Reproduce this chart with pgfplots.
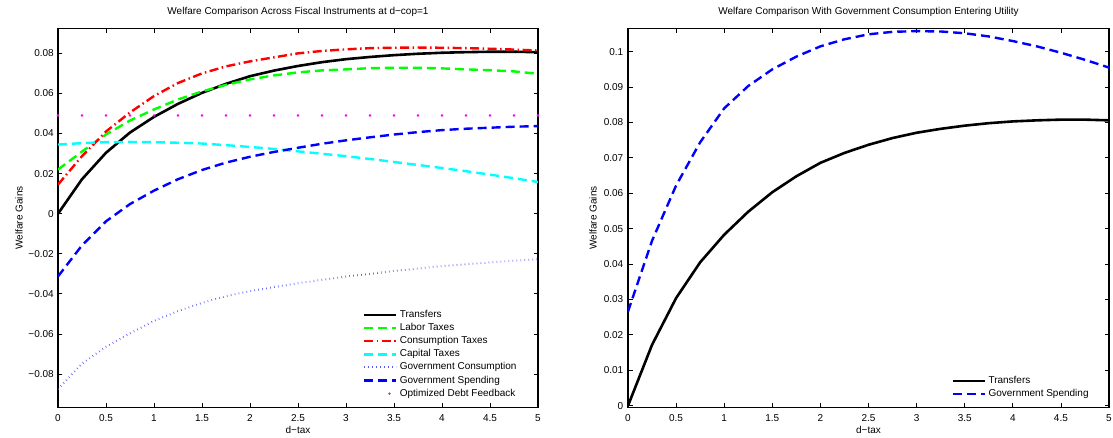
\documentclass[border=0pt]{standalone}
\usepackage{pgfplots}
\pgfplotsset{compat=1.18}
\usepackage{fontspec}
\setmainfont{Liberation Sans}
\definecolor{mgreen}{rgb}{0,1,0}
\definecolor{mcyan}{rgb}{0,1,1}
\definecolor{mmagenta}{rgb}{1,0,1}
\definecolor{mred}{rgb}{1,0,0}
\definecolor{mblue}{rgb}{0,0,1}

\pgfplotsset{
  matlab/.style={
    scale only axis, width=480bp, height=379bp,
    xmin=0, xmax=5,
    scaled y ticks=false, scaled x ticks=false,
    font=\fontsize{10bp}{12bp}\selectfont,
    axis line style={line width=1.1bp},
    every tick/.style={line width=0.8bp, black},
    major tick length=4.5bp,
    tick align=inside, tick pos=both,
    xtick={0,0.5,1,1.5,2,2.5,3,3.5,4,4.5,5},
    xticklabels={0,0.5,1,1.5,2,2.5,3,3.5,4,4.5,5},
    xticklabel style={anchor=north, inner sep=0pt, yshift=-7bp},
    yticklabel style={anchor=east, inner sep=0pt, xshift=-4bp},
    xlabel={d−tax}, ylabel={Welfare Gains},
    xlabel style={at={(axis description cs:0.5,0)}, anchor=base, inner sep=0pt, yshift=-26.2bp},
    title style={at={(axis description cs:0.5,1)}, anchor=base, inner sep=0pt, yshift=8.3bp},
    legend style={draw=none, fill=none, anchor=north west, inner sep=0pt, row sep=0pt,
      nodes={text height=7.2bp, text depth=2.2bp, inner ysep=1.85bp, inner xsep=2bp}},
    legend cell align=left,
    legend image code/.code={\draw[##1] (0bp,0bp) -- (32bp,0bp);},
  },
  solidk/.style={black, line width=2.6bp},
  dashd/.style={line width=2.4bp, dash pattern=on 9bp off 5bp},
  dotd/.style={color={rgb,1:red,0.35;green,0.35;blue,1}, line width=2bp, dash pattern=on 0.6bp off 3.4bp},
  debtmark/.style={only marks, mark=*, mark size=1bp, mmagenta},
  debtleg/.style={debtmark,
    legend image code/.code={\draw[##1] plot coordinates {(25bp,0bp)};}},
}

\begin{document}
\begin{tikzpicture}
\useasboundingbox (0,0) rectangle (1113bp,438bp);

% left panel
\begin{axis}[matlab, at={(58bp,30.7bp)}, anchor=south west,
  ymin=-0.0966, ymax=0.0925,
  ytick={-0.08,-0.06,-0.04,-0.02,0,0.02,0.04,0.06,0.08},
  yticklabels={−0.08,−0.06,−0.04,−0.02,0,0.02,0.04,0.06,0.08},
  ylabel style={at={([xshift=-35.3bp]axis description cs:0,0.5)}, anchor=base, inner sep=0pt},
  title={Welfare Comparison Across Fiscal Instruments at d−cop=1},
  legend style={at={(0.6354,0.2613)}}]
% optimized debt feedback, drawn first so the curves lie over it
\addplot[debtmark, forget plot] coordinates {
(0,0.049) (0.25,0.049) (0.5,0.049) (0.75,0.049) (1,0.049) (1.25,0.049) (1.5,0.049)
(1.75,0.049) (2,0.049) (2.25,0.049) (2.5,0.049) (2.75,0.049) (3,0.049) (3.25,0.049)
(3.5,0.049) (3.75,0.049) (4,0.049) (4.25,0.049) (4.5,0.049) (4.75,0.049) (5,0.049)
};
\addplot[solidk] coordinates {
(0,0) (0.25,0.0172) (0.5,0.0304) (0.75,0.0405) (1,0.0483) (1.25,0.0548) (1.5,0.0603)
(1.75,0.0648) (2,0.0686) (2.25,0.0714) (2.5,0.0737) (2.75,0.0756) (3,0.0771) (3.25,0.0782)
(3.5,0.0791) (3.75,0.0798) (4,0.0803) (4.25,0.0806) (4.5,0.0808) (4.75,0.0808) (5,0.0806)
};
\addlegendentry{Transfers}
\addplot[dashd, mgreen] coordinates {
(0,0.022) (0.25,0.031) (0.5,0.0395) (0.75,0.0465) (1,0.052) (1.25,0.057) (1.5,0.061)
(1.75,0.0643) (2,0.067) (2.25,0.069) (2.5,0.0705) (2.75,0.0715) (3,0.072) (3.25,0.0726)
(3.5,0.0728) (3.75,0.0728) (4,0.0725) (4.25,0.072) (4.5,0.0716) (4.75,0.071) (5,0.0698)
};
\addlegendentry{Labor Taxes}
\addplot[mred, line width=2.4bp, dash pattern=on 9bp off 3.5bp on 1.5bp off 3.5bp] coordinates {
(0,0.0145) (0.25,0.0287) (0.5,0.041) (0.75,0.0505) (1,0.0587) (1.25,0.0652) (1.5,0.070)
(1.75,0.0735) (2,0.076) (2.25,0.078) (2.5,0.080) (2.75,0.0812) (3,0.082) (3.25,0.0826)
(3.5,0.0828) (3.75,0.0829) (4,0.0828) (4.25,0.0826) (4.5,0.0823) (4.75,0.0819) (5,0.0814)
};
\addlegendentry{Consumption Taxes}
\addplot[dashd, mcyan] coordinates {
(0,0.0345) (0.25,0.0352) (0.5,0.0357) (0.75,0.0358) (1,0.0357) (1.25,0.0354) (1.5,0.035)
(1.75,0.0342) (2,0.0333) (2.25,0.0323) (2.5,0.0311) (2.75,0.0299) (3,0.0287) (3.25,0.0273)
(3.5,0.0258) (3.75,0.0243) (4,0.0228) (4.25,0.0212) (4.5,0.0195) (4.75,0.0177) (5,0.0158)
};
\addlegendentry{Capital Taxes}
\addplot[dotd] coordinates {
(0,-0.0875) (0.25,-0.0748) (0.5,-0.0664) (0.75,-0.0597) (1,-0.0535) (1.25,-0.0486) (1.5,-0.0445)
(1.75,-0.0411) (2,-0.0387) (2.25,-0.0366) (2.5,-0.0347) (2.75,-0.033) (3,-0.0314) (3.25,-0.030)
(3.5,-0.0286) (3.75,-0.0273) (4,-0.0262) (4.25,-0.0252) (4.5,-0.0243) (4.75,-0.0235) (5,-0.0227)
};
\addlegendentry{Government Consumption}
\addplot[dashd, mblue] coordinates {
(0,-0.0313) (0.25,-0.0158) (0.5,-0.0038) (0.75,0.0048) (1,0.0115) (1.25,0.0172) (1.5,0.0218)
(1.75,0.0255) (2,0.0284) (2.25,0.0308) (2.5,0.0329) (2.75,0.0349) (3,0.0366) (3.25,0.0381)
(3.5,0.0395) (3.75,0.0407) (4,0.0417) (4.25,0.0424) (4.5,0.0429) (4.75,0.0434) (5,0.0437)
};
\addlegendentry{Government Spending}
\addlegendimage{debtleg}
\addlegendentry{Optimized Debt Feedback}
\end{axis}

% right panel
\begin{axis}[matlab, at={(628bp,30.7bp)}, anchor=south west,
  width=481bp,
  ymin=-0.00045, ymax=0.1066,
  ytick={0,0.01,0.02,0.03,0.04,0.05,0.06,0.07,0.08,0.09,0.1},
  yticklabels={0,0.01,0.02,0.03,0.04,0.05,0.06,0.07,0.08,0.09,0.1},
  yticklabel style={xshift=-0.5bp},
  ylabel style={at={([xshift=-31.5bp]axis description cs:0,0.5)}, anchor=base, inner sep=0pt},
  title={Welfare Comparison With Government Consumption Entering Utility},
  legend style={at={(0.673,0.0872)}}]
\addplot[solidk] coordinates {
(0,0) (0.25,0.0172) (0.5,0.0304) (0.75,0.0405) (1,0.0483) (1.25,0.0548) (1.5,0.0603)
(1.75,0.0648) (2,0.0686) (2.25,0.0714) (2.5,0.0737) (2.75,0.0756) (3,0.0771) (3.25,0.0782)
(3.5,0.0791) (3.75,0.0798) (4,0.0803) (4.25,0.0806) (4.5,0.0808) (4.75,0.0808) (5,0.0806)
};
\addlegendentry{Transfers}
\addplot[dashd, mblue] coordinates {
(0,0.0266) (0.25,0.0466) (0.5,0.0622) (0.75,0.0744) (1,0.084) (1.25,0.0903) (1.5,0.095)
(1.75,0.0986) (2,0.1015) (2.25,0.1035) (2.5,0.1049) (2.75,0.1056) (3,0.1058) (3.25,0.1057)
(3.5,0.1052) (3.75,0.1043) (4,0.103) (4.25,0.1015) (4.5,0.0997) (4.75,0.0977) (5,0.0955)
};
\addlegendentry{Government Spending}
\end{axis}
\end{tikzpicture}
\end{document}
